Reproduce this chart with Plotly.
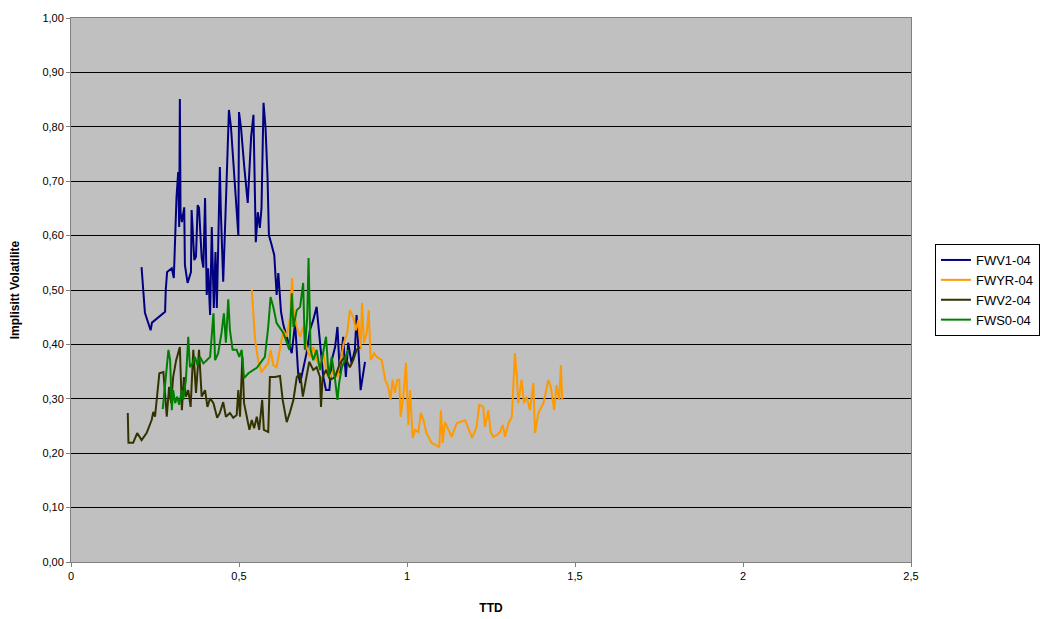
import plotly.graph_objects as go

# Time to delivery (years) and implied volatility per contract
fwv1_ttd = [0.21, 0.22, 0.237, 0.241, 0.28, 0.282, 0.286, 0.30, 0.306, 0.314, 0.319, 0.322, 0.324, 0.326,
            0.33, 0.337, 0.339, 0.347, 0.357, 0.359, 0.367, 0.372, 0.377, 0.381, 0.389, 0.394, 0.399, 0.404,
            0.408, 0.414, 0.419, 0.425, 0.43, 0.434, 0.438, 0.443, 0.446, 0.453, 0.463, 0.47, 0.476, 0.483,
            0.491, 0.498, 0.50, 0.506, 0.516, 0.526, 0.536, 0.543, 0.55, 0.556, 0.562, 0.567, 0.573, 0.579,
            0.585, 0.589, 0.597, 0.605, 0.612, 0.617, 0.625, 0.632, 0.642, 0.657, 0.667, 0.676, 0.682, 0.691,
            0.701, 0.711, 0.721, 0.731, 0.743, 0.751, 0.759, 0.769, 0.776, 0.786, 0.793, 0.80, 0.81, 0.818,
            0.825, 0.835, 0.845, 0.85, 0.862, 0.875]
fwv1_iv = [0.542, 0.458, 0.426, 0.44, 0.46, 0.50, 0.533, 0.54, 0.522, 0.67, 0.717, 0.616, 0.851, 0.643,
           0.625, 0.652, 0.546, 0.513, 0.533, 0.647, 0.555, 0.561, 0.656, 0.651, 0.559, 0.541, 0.669, 0.491,
           0.54, 0.454, 0.616, 0.467, 0.57, 0.467, 0.577, 0.726, 0.643, 0.515, 0.698, 0.831, 0.80, 0.735,
           0.662, 0.601, 0.827, 0.798, 0.724, 0.66, 0.781, 0.822, 0.588, 0.643, 0.614, 0.651, 0.844, 0.798,
           0.706, 0.601, 0.583, 0.564, 0.491, 0.531, 0.46, 0.436, 0.414, 0.384, 0.44, 0.347, 0.329, 0.353,
           0.384, 0.426, 0.445, 0.469, 0.39, 0.34, 0.316, 0.316, 0.371, 0.395, 0.432, 0.347, 0.414, 0.34,
           0.403, 0.365, 0.39, 0.454, 0.316, 0.368]

fwyr_ttd = [0.538, 0.548, 0.557, 0.567, 0.577, 0.587, 0.594, 0.602, 0.612, 0.624, 0.632, 0.642, 0.652,
            0.658, 0.662, 0.672, 0.682, 0.691, 0.701, 0.711, 0.721, 0.731, 0.741, 0.751, 0.761, 0.771,
            0.781, 0.793, 0.803, 0.812, 0.822, 0.83, 0.84, 0.848, 0.855, 0.862, 0.866, 0.872, 0.88, 0.886,
            0.892, 0.902, 0.91, 0.925, 0.935, 0.944, 0.951, 0.957, 0.964, 0.971, 0.977, 0.981, 0.989, 0.997,
            1.001, 1.004, 1.009, 1.017, 1.024, 1.034, 1.041, 1.049, 1.058, 1.073, 1.086, 1.096, 1.101, 1.106,
            1.113, 1.123, 1.133, 1.148, 1.158, 1.173, 1.182, 1.194, 1.207, 1.215, 1.227, 1.232, 1.242, 1.249,
            1.257, 1.267, 1.277, 1.285, 1.292, 1.302, 1.312, 1.317, 1.321, 1.327, 1.331, 1.341, 1.348, 1.356,
            1.366, 1.376, 1.381, 1.391, 1.406, 1.421, 1.428, 1.438, 1.445, 1.453, 1.458, 1.462]
fwyr_iv = [0.50, 0.408, 0.371, 0.349, 0.358, 0.365, 0.39, 0.362, 0.358, 0.403, 0.426, 0.414, 0.45,
           0.522, 0.463, 0.432, 0.414, 0.432, 0.395, 0.377, 0.395, 0.371, 0.358, 0.384, 0.347, 0.34,
           0.353, 0.34, 0.371, 0.403, 0.421, 0.463, 0.45, 0.426, 0.445, 0.39, 0.476, 0.403, 0.421, 0.463,
           0.371, 0.384, 0.377, 0.371, 0.335, 0.322, 0.298, 0.335, 0.311, 0.335, 0.335, 0.267, 0.304, 0.366,
           0.298, 0.252, 0.316, 0.228, 0.243, 0.239, 0.274, 0.261, 0.237, 0.219, 0.215, 0.211, 0.279, 0.219,
           0.257, 0.243, 0.23, 0.255, 0.257, 0.261, 0.246, 0.228, 0.248, 0.289, 0.285, 0.248, 0.279, 0.239,
           0.23, 0.233, 0.239, 0.252, 0.23, 0.255, 0.267, 0.335, 0.384, 0.34, 0.292, 0.335, 0.292, 0.304,
           0.279, 0.329, 0.237, 0.274, 0.292, 0.335, 0.322, 0.279, 0.325, 0.298, 0.362, 0.298]

fwv2_ttd = [0.169, 0.171, 0.185, 0.197, 0.21, 0.225, 0.24, 0.245, 0.25, 0.255, 0.263, 0.275, 0.28, 0.285,
            0.292, 0.298, 0.304, 0.313, 0.324, 0.33, 0.336, 0.342, 0.349, 0.356, 0.364, 0.372, 0.381, 0.389,
            0.399, 0.406, 0.414, 0.424, 0.435, 0.443, 0.453, 0.461, 0.473, 0.483, 0.493, 0.498, 0.503, 0.51,
            0.515, 0.523, 0.531, 0.538, 0.545, 0.553, 0.56, 0.569, 0.574, 0.587, 0.592, 0.607, 0.622, 0.63,
            0.642, 0.652, 0.662, 0.672, 0.682, 0.69, 0.701, 0.709, 0.721, 0.731, 0.741, 0.744, 0.749, 0.759,
            0.771, 0.786, 0.80, 0.815, 0.83, 0.84, 0.85, 0.86]
fwv2_iv = [0.274, 0.219, 0.219, 0.237, 0.224, 0.237, 0.261, 0.276, 0.267, 0.304, 0.347, 0.349, 0.304, 0.267,
           0.322, 0.292, 0.34, 0.371, 0.395, 0.279, 0.34, 0.304, 0.316, 0.285, 0.39, 0.311, 0.39, 0.304,
           0.316, 0.285, 0.301, 0.292, 0.265, 0.274, 0.294, 0.267, 0.274, 0.265, 0.27, 0.316, 0.267, 0.377,
           0.292, 0.267, 0.243, 0.261, 0.246, 0.267, 0.243, 0.298, 0.243, 0.239, 0.34, 0.34, 0.342, 0.298,
           0.257, 0.276, 0.298, 0.34, 0.347, 0.304, 0.34, 0.368, 0.353, 0.358, 0.34, 0.285, 0.34, 0.353,
           0.335, 0.34, 0.365, 0.377, 0.358, 0.371, 0.39, 0.395]

fws0_ttd = [0.273, 0.28, 0.285, 0.29, 0.295, 0.30, 0.304, 0.31, 0.316, 0.322, 0.33, 0.334, 0.342, 0.349,
            0.354, 0.362, 0.369, 0.376, 0.384, 0.394, 0.404, 0.414, 0.424, 0.429, 0.438, 0.448, 0.455, 0.461,
            0.468, 0.473, 0.481, 0.493, 0.501, 0.508, 0.515, 0.528, 0.553, 0.577, 0.587, 0.594, 0.602, 0.612,
            0.632, 0.642, 0.65, 0.657, 0.662, 0.672, 0.682, 0.687, 0.691, 0.696, 0.703, 0.707, 0.713, 0.721,
            0.731, 0.741, 0.751, 0.759, 0.767, 0.776, 0.786, 0.793, 0.798, 0.806, 0.815, 0.825]
fws0_iv = [0.281, 0.322, 0.353, 0.39, 0.371, 0.279, 0.316, 0.292, 0.304, 0.289, 0.316, 0.298, 0.335, 0.414,
           0.358, 0.365, 0.377, 0.362, 0.377, 0.365, 0.371, 0.377, 0.457, 0.371, 0.384, 0.421, 0.457, 0.403,
           0.483, 0.426, 0.39, 0.39, 0.377, 0.39, 0.338, 0.347, 0.357, 0.377, 0.432, 0.487, 0.469, 0.439,
           0.421, 0.403, 0.39, 0.494, 0.432, 0.463, 0.469, 0.494, 0.513, 0.39, 0.45, 0.559, 0.39, 0.371,
           0.39, 0.353, 0.39, 0.414, 0.34, 0.377, 0.335, 0.298, 0.329, 0.358, 0.371, 0.39]

series = [
    ("FWV1-04", fwv1_ttd, fwv1_iv, "#000080"),
    ("FWYR-04", fwyr_ttd, fwyr_iv, "#FF9900"),
    ("FWV2-04", fwv2_ttd, fwv2_iv, "#333300"),
    ("FWS0-04", fws0_ttd, fws0_iv, "#008000"),
]

y_ticks = [i / 10 for i in range(11)]
x_ticks = [0, 0.5, 1, 1.5, 2, 2.5]
x_labels = ["0", "0,5", "1", "1,5", "2", "2,5"]

fig = go.Figure()
for name, xs, ys, color in series:
    fig.add_trace(go.Scatter(x=xs, y=ys, mode="lines", name=name,
                             line=dict(color=color, width=2)))

family = "Liberation Sans, Arial, sans-serif"

fig.update_layout(
    width=1040, height=619,
    margin=dict(l=71, r=129, t=18, b=57, autoexpand=False),
    paper_bgcolor="white",
    plot_bgcolor="#C0C0C0",
    separators=", ",
    font=dict(family=family, size=11, color="black"),
    showlegend=True,
    legend=dict(x=1.0285, y=0.5, xanchor="left", yanchor="middle",
                bgcolor="white", bordercolor="black", borderwidth=1,
                font=dict(family=family, size=13, color="black"),
                tracegroupgap=0, itemwidth=30),
    xaxis=dict(range=[0, 2.5], tickvals=x_ticks, ticktext=x_labels,
               showgrid=False, zeroline=False, showline=True, linecolor="#808080", linewidth=1,
               mirror=True, ticks="outside", ticklen=4, tickcolor="#808080",
               title=dict(text="<b>TTD</b>", standoff=22,
                          font=dict(family=family, size=12))),
    yaxis=dict(range=[0, 1.0], tickvals=y_ticks, tickformat=".2f",
               showgrid=True, gridcolor="black", gridwidth=1, zeroline=False,
               showline=True, linecolor="#808080", linewidth=1, mirror=True,
               ticks="outside", ticklen=4, tickcolor="#808080",
               title=dict(text="<b>Implisitt Volatilite</b>", standoff=20,
                          font=dict(family=family, size=12))),
)

fig.write_html("out.html")
